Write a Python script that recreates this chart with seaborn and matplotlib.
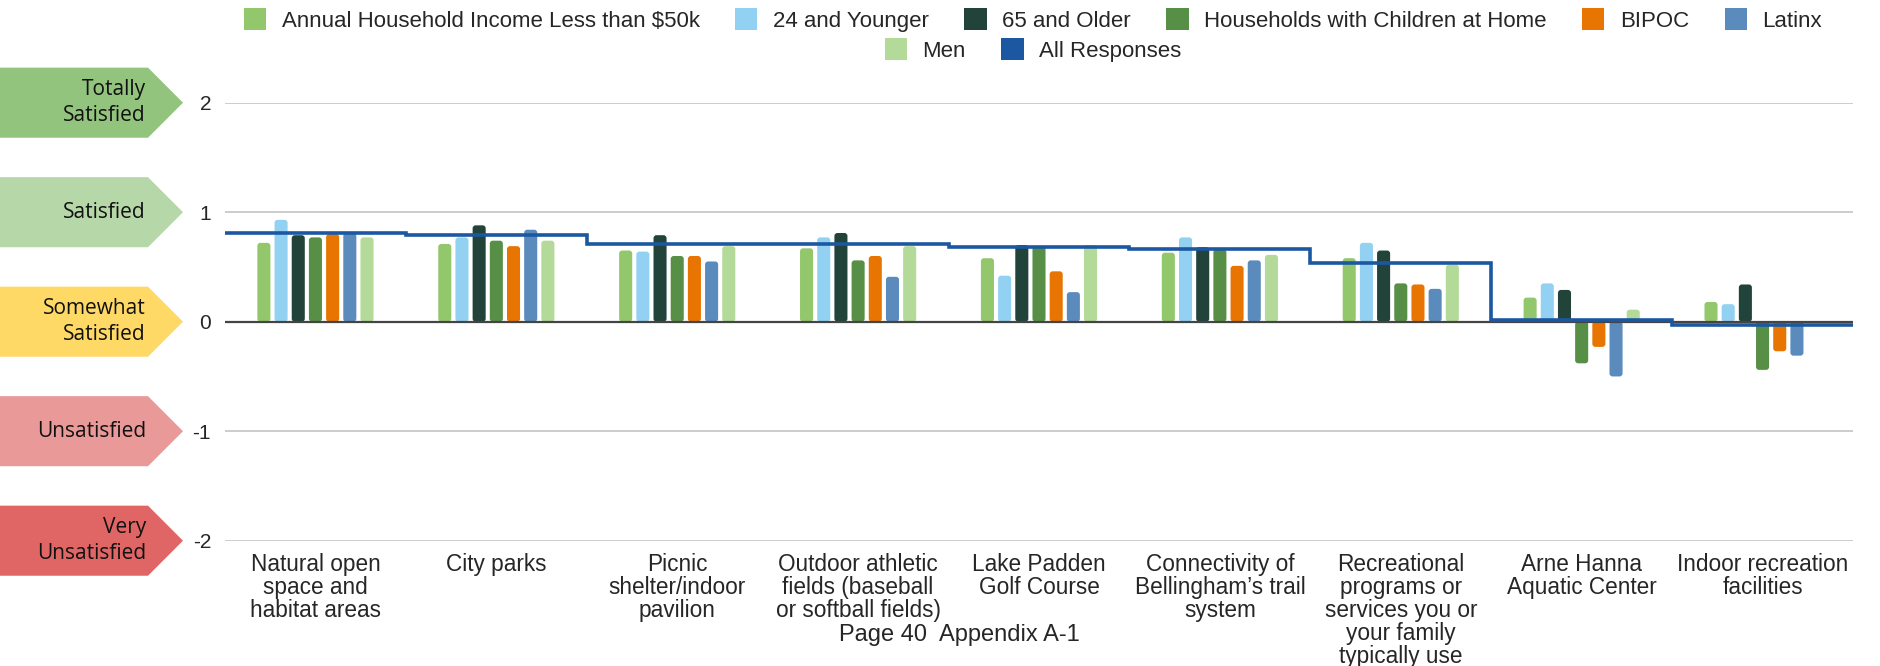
import numpy as np
import pandas as pd
import matplotlib
matplotlib.use("Agg")
import matplotlib.pyplot as plt
import matplotlib.transforms as mtransforms
from matplotlib.patches import Polygon, Patch, FancyBboxPatch, Rectangle
import seaborn as sns

# ---- data ----
categories = [
    "Natural open\nspace and\nhabitat areas",
    "City parks",
    "Picnic\nshelter/indoor\npavilion",
    "Outdoor athletic\nfields (baseball\nor softball fields)",
    "Lake Padden\nGolf Course",
    "Connectivity of\nBellingham’s trail\nsystem",
    "Recreational\nprograms or\nservices you or\nyour family\ntypically use",
    "Arne Hanna\nAquatic Center",
    "Indoor recreation\nfacilities",
]

groups = [
    "Annual Household Income Less than $50k",
    "24 and Younger",
    "65 and Older",
    "Households with Children at Home",
    "BIPOC",
    "Latinx",
    "Men",
]

income_lt_50k = [0.72, 0.71, 0.65, 0.67, 0.58, 0.63, 0.58, 0.22, 0.18]
age_24_younger = [0.93, 0.77, 0.64, 0.77, 0.42, 0.77, 0.72, 0.35, 0.16]
age_65_older = [0.79, 0.88, 0.79, 0.81, 0.70, 0.68, 0.65, 0.29, 0.34]
hh_children = [0.77, 0.74, 0.60, 0.56, 0.69, 0.66, 0.35, -0.38, -0.44]
bipoc = [0.80, 0.69, 0.60, 0.60, 0.46, 0.51, 0.34, -0.23, -0.27]
latinx = [0.81, 0.84, 0.55, 0.41, 0.27, 0.56, 0.30, -0.50, -0.31]
men = [0.77, 0.74, 0.69, 0.69, 0.70, 0.61, 0.52, 0.11, 0.0]
all_responses = [0.81, 0.79, 0.71, 0.71, 0.68, 0.66, 0.54, 0.02, -0.03]

series = [income_lt_50k, age_24_younger, age_65_older, hh_children, bipoc, latinx, men]

palette = ["#93c76c", "#93d1f2", "#22433a", "#578f46", "#e87502", "#5b8abd", "#b3da98"]
line_color = "#1b58a1"

levels = [2, 1, 0, -1, -2]
level_labels = ["Totally\nSatisfied", "Satisfied", "Somewhat\nSatisfied", "Unsatisfied", "Very\nUnsatisfied"]
level_colors = ["#93c47d", "#b6d7a8", "#ffd966", "#ea9999", "#e06666"]

rows = []
for g, vals in zip(groups, series):
    for c, v in zip(categories, vals):
        rows.append({"category": c, "group": g, "score": v})
df = pd.DataFrame(rows)

# ---- plot ----
sns.set_style("white")
plt.rcParams["font.family"] = ["Liberation Sans", "DejaVu Sans"]

fig = plt.figure(figsize=(18.8, 6.66), dpi=100)
ax = fig.add_axes([225 / 1880, 1 - 540.7 / 666, 1628 / 1880, 438 / 666])

sns.barplot(data=df, x="category", y="score", hue="group", order=categories,
            hue_order=groups, palette=palette, width=0.665, gap=0.24,
            saturation=1, ax=ax, zorder=2)
if ax.get_legend():
    ax.get_legend().remove()

ax.set_xlim(-0.5, len(categories) - 0.5)
ax.set_ylim(-2, 2)

# round the bar corners a bit
px_x = 1628 / len(categories)
px_y = 438 / 4
r = 3 / px_x
asp = px_x / px_y
for p in list(ax.patches):
    if not isinstance(p, Rectangle):
        continue
    h = p.get_height()
    if abs(h) < 1e-6:
        p.remove()
        continue
    x0, y0, w = p.get_x(), p.get_y(), p.get_width()
    yb, yt = min(y0, y0 + h), max(y0, y0 + h)
    fb = FancyBboxPatch((x0, yb), w, yt - yb,
                        boxstyle=f"round,pad=0,rounding_size={r}",
                        mutation_aspect=asp, fc=p.get_facecolor(), ec="none", zorder=2)
    ax.add_patch(fb)
    p.remove()

# All Responses as a stepped line across categories
edges = np.arange(len(categories) + 1) - 0.5
ax.stairs(all_responses, edges, color=line_color, linewidth=2.6, zorder=4, baseline=None)

ax.set_yticks(levels)
ax.set_yticklabels([str(v) for v in levels])
ax.grid(axis="y", color="#cccccc", linewidth=1.4, zorder=0)
ax.grid(axis="x", visible=False)
ax.axhline(0, color="#444444", linewidth=1.6, zorder=3)
for s in ax.spines.values():
    s.set_visible(False)
ax.tick_params(axis="y", length=0, pad=10, labelsize=15)
ax.tick_params(axis="x", length=0, pad=9, labelsize=16.3)
for lbl in ax.get_xticklabels():
    lbl.set_linespacing(1.0)
ax.set_xlabel("")
ax.set_ylabel("")

# left-hand arrow labels
trans = mtransforms.blended_transform_factory(fig.transFigure, ax.transData)
body = 148 / 1880
tip = 183 / 1880
half = 0.32
for lv, lab, col in zip(levels, level_labels, level_colors):
    poly = Polygon([(0, lv - half), (body, lv - half), (tip, lv), (body, lv + half), (0, lv + half)],
                   closed=True, transform=trans, facecolor=col, edgecolor="none", clip_on=False)
    fig.add_artist(poly)
    fig.text(146 / 1880, lv, lab, transform=trans, ha="right", va="center",
             fontsize=15, family=["Open Sans", "DejaVu Sans"], linespacing=1.28, color="#111111")

# legend (two centred rows)
handles = [Patch(facecolor=c, edgecolor="none") for c in palette] + [Patch(facecolor=line_color, edgecolor="none")]
labels = groups + ["All Responses"]
leg_kw = dict(frameon=False, fontsize=16, handlelength=1.0, handleheight=1.1,
              handletextpad=0.7, columnspacing=1.6, loc="center", borderpad=0)
leg1 = fig.legend(handles[:6], labels[:6], ncol=6, bbox_to_anchor=(1033 / 1880, 1 - 20 / 666), **leg_kw)
leg2 = fig.legend(handles[6:], labels[6:], ncol=2, bbox_to_anchor=(1033 / 1880, 1 - 50 / 666), **leg_kw)

fig.text(959 / 1880, 1 - 635.5 / 666, "Page 40  Appendix A-1", ha="center", va="center", fontsize=17)

fig.savefig("out.png", dpi=100)
